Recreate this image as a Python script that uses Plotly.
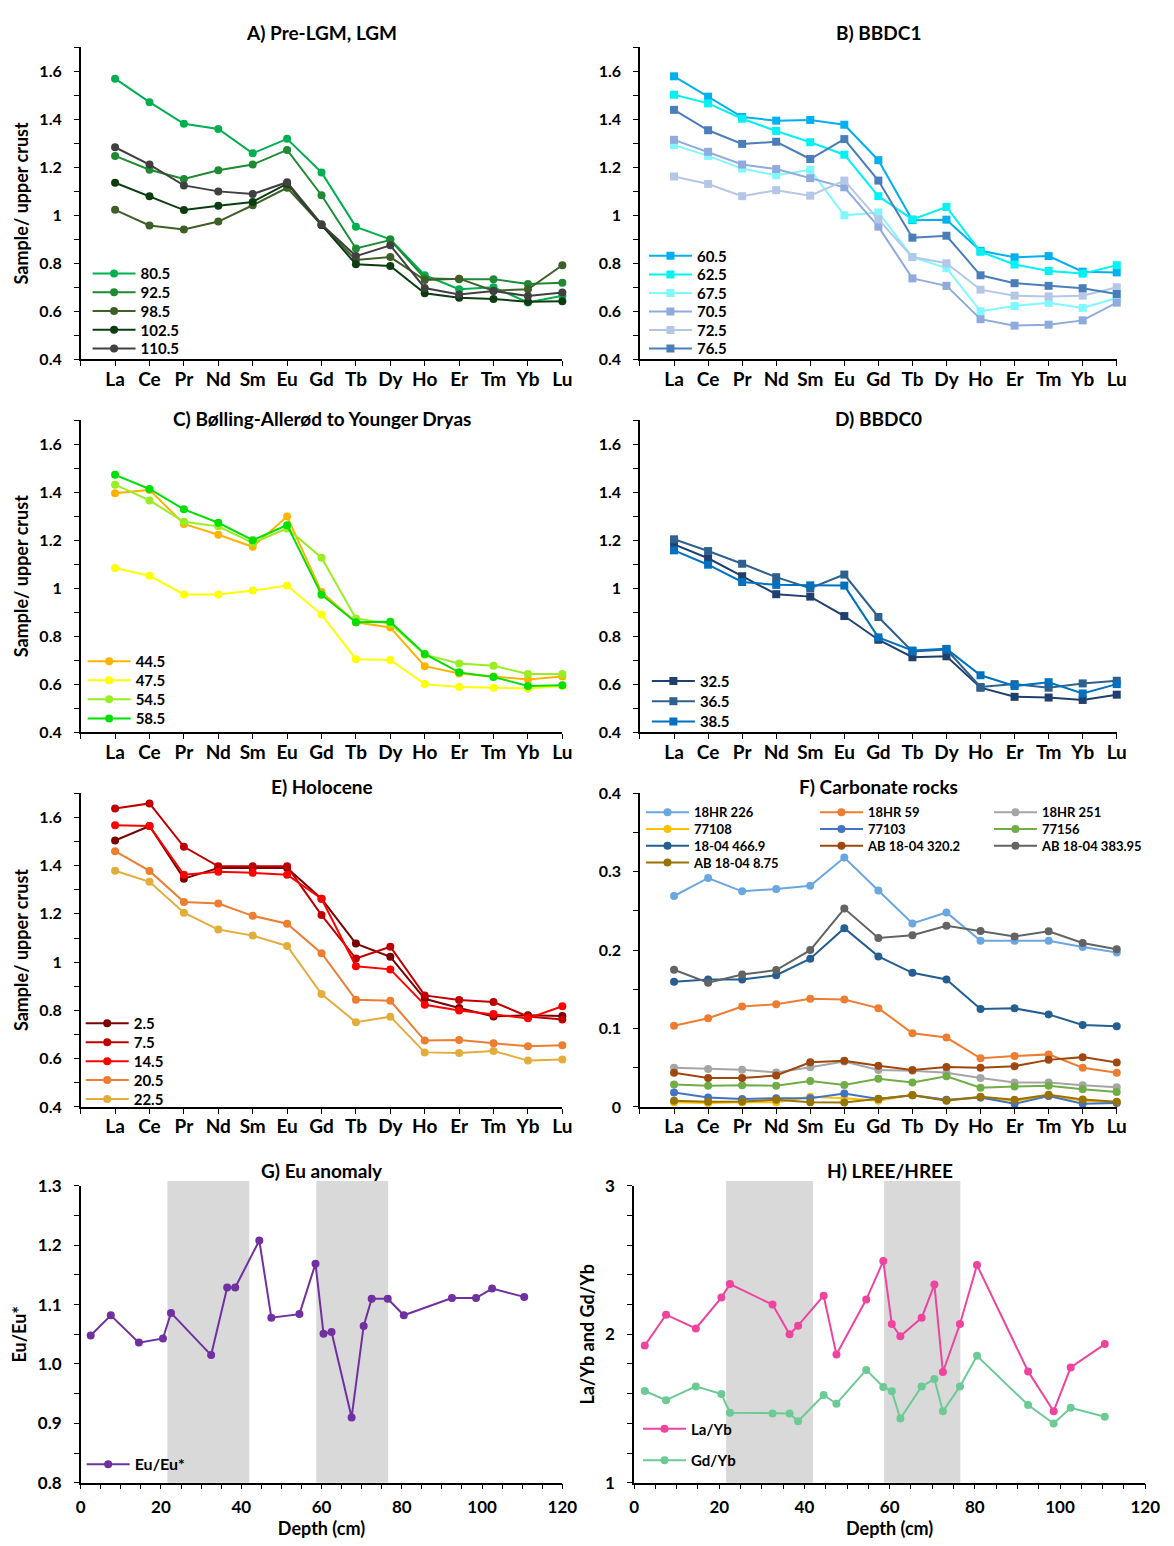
import plotly.graph_objects as go

# ---------------- DATA ----------------
cats = ['La', 'Ce', 'Pr', 'Nd', 'Sm', 'Eu', 'Gd', 'Tb', 'Dy', 'Ho', 'Er', 'Tm', 'Yb', 'Lu']

# A) Pre-LGM, LGM
a_labels = ['80.5', '92.5', '98.5', '102.5', '110.5']
a_80_5 = [1.570, 1.472, 1.382, 1.360, 1.259, 1.319, 1.179, 0.952, 0.900, 0.750, 0.692, 0.700, 0.637, 0.665]
a_92_5 = [1.248, 1.190, 1.152, 1.188, 1.212, 1.273, 1.084, 0.862, 0.897, 0.738, 0.734, 0.734, 0.714, 0.719]
a_98_5 = [1.023, 0.958, 0.941, 0.974, 1.042, 1.115, 0.960, 0.814, 0.826, 0.730, 0.736, 0.686, 0.692, 0.792]
a_102_5 = [1.136, 1.080, 1.022, 1.040, 1.056, 1.132, 0.960, 0.796, 0.789, 0.675, 0.656, 0.651, 0.640, 0.642]
a_110_5 = [1.284, 1.212, 1.125, 1.100, 1.089, 1.138, 0.963, 0.830, 0.875, 0.697, 0.670, 0.684, 0.664, 0.678]

# B) BBDC1
b_labels = ['60.5', '62.5', '67.5', '70.5', '72.5', '76.5']
b_60_5 = [1.580, 1.495, 1.410, 1.395, 1.398, 1.378, 1.230, 0.980, 0.982, 0.852, 0.825, 0.830, 0.765, 0.762]
b_62_5 = [1.503, 1.467, 1.403, 1.352, 1.305, 1.253, 1.080, 0.983, 1.035, 0.848, 0.795, 0.768, 0.757, 0.792]
b_67_5 = [1.293, 1.248, 1.195, 1.167, 1.190, 1.000, 1.012, 0.826, 0.780, 0.600, 0.622, 0.635, 0.614, 0.655]
b_70_5 = [1.315, 1.265, 1.212, 1.193, 1.155, 1.117, 0.953, 0.737, 0.706, 0.567, 0.540, 0.544, 0.562, 0.636]
b_72_5 = [1.162, 1.131, 1.080, 1.105, 1.082, 1.145, 0.983, 0.826, 0.800, 0.690, 0.665, 0.662, 0.665, 0.700]
b_76_5 = [1.440, 1.355, 1.298, 1.307, 1.235, 1.318, 1.145, 0.907, 0.915, 0.750, 0.717, 0.706, 0.696, 0.672]

# C) Bolling-Allerod to Younger Dryas
c_labels = ['44.5', '47.5', '54.5', '58.5']
c_44_5 = [1.396, 1.410, 1.268, 1.223, 1.173, 1.299, 0.984, 0.858, 0.836, 0.675, 0.644, 0.632, 0.619, 0.632]
c_47_5 = [1.084, 1.052, 0.974, 0.974, 0.990, 1.011, 0.890, 0.704, 0.701, 0.600, 0.588, 0.585, 0.582, 0.592]
c_54_5 = [1.432, 1.366, 1.277, 1.258, 1.189, 1.249, 1.127, 0.874, 0.852, 0.723, 0.686, 0.677, 0.642, 0.642]
c_58_5 = [1.473, 1.414, 1.329, 1.273, 1.200, 1.263, 0.973, 0.858, 0.860, 0.726, 0.649, 0.630, 0.592, 0.595]

# D) BBDC0
d_labels = ['32.5', '36.5', '38.5']
d_32_5 = [1.183, 1.125, 1.050, 0.975, 0.965, 0.884, 0.785, 0.712, 0.716, 0.585, 0.547, 0.544, 0.534, 0.556]
d_36_5 = [1.204, 1.155, 1.102, 1.046, 1.000, 1.057, 0.880, 0.736, 0.744, 0.588, 0.600, 0.585, 0.603, 0.614]
d_38_5 = [1.158, 1.098, 1.026, 1.014, 1.012, 1.011, 0.795, 0.740, 0.747, 0.637, 0.592, 0.608, 0.561, 0.600]

# E) Holocene
e_labels = ['2.5', '7.5', '14.5', '20.5', '22.5']
e_2_5 = [1.504, 1.564, 1.346, 1.390, 1.390, 1.390, 1.263, 1.077, 1.022, 0.848, 0.810, 0.775, 0.780, 0.777]
e_7_5 = [1.637, 1.658, 1.478, 1.397, 1.397, 1.397, 1.195, 1.015, 1.064, 0.862, 0.843, 0.835, 0.775, 0.762]
e_14_5 = [1.567, 1.564, 1.362, 1.375, 1.370, 1.362, 1.263, 0.983, 0.970, 0.823, 0.800, 0.785, 0.767, 0.817]
e_20_5 = [1.460, 1.378, 1.249, 1.243, 1.192, 1.159, 1.037, 0.844, 0.840, 0.675, 0.677, 0.664, 0.651, 0.656]
e_22_5 = [1.379, 1.333, 1.205, 1.135, 1.110, 1.067, 0.868, 0.751, 0.774, 0.626, 0.623, 0.632, 0.592, 0.597]

# F) Carbonate rocks
f_labels = ['18HR 226', '18HR 59', '18HR 251', '77108', '77103', '77156',
            '18-04 466.9', 'AB 18-04 320.2', 'AB 18-04 383.95', 'AB 18-04 8.75']
f_18hr226 = [0.269, 0.292, 0.275, 0.278, 0.282, 0.318, 0.276, 0.234, 0.248, 0.212, 0.212, 0.212, 0.204, 0.197]
f_18hr59 = [0.1035, 0.113, 0.128, 0.131, 0.138, 0.137, 0.126, 0.094, 0.0885, 0.062, 0.065, 0.067, 0.050, 0.0435]
f_18hr251 = [0.050, 0.0485, 0.0475, 0.044, 0.0505, 0.058, 0.047, 0.046, 0.0435, 0.037, 0.031, 0.031, 0.0275, 0.025]
f_77108 = [0.006, 0.005, 0.006, 0.006, 0.013, 0.011, 0.008, 0.0155, 0.0085, 0.012, 0.0075, 0.0145, 0.008, 0.006]
f_77103 = [0.0185, 0.012, 0.010, 0.011, 0.011, 0.017, 0.010, 0.015, 0.009, 0.012, 0.004, 0.014, 0.004, 0.005]
f_77156 = [0.0285, 0.027, 0.0275, 0.027, 0.033, 0.028, 0.036, 0.031, 0.039, 0.0245, 0.026, 0.027, 0.0225, 0.019]
f_1804_4669 = [0.1595, 0.1625, 0.1625, 0.168, 0.189, 0.228, 0.192, 0.171, 0.1625, 0.125, 0.1257, 0.118, 0.1045, 0.103]
f_ab1804_3202 = [0.0435, 0.037, 0.037, 0.040, 0.057, 0.059, 0.0525, 0.047, 0.051, 0.050, 0.052, 0.060, 0.0635, 0.0565]
f_ab1804_38395 = [0.175, 0.1585, 0.169, 0.1745, 0.200, 0.253, 0.2155, 0.219, 0.231, 0.2245, 0.2175, 0.224, 0.209, 0.201]
f_ab1804_875 = [0.008, 0.0065, 0.007, 0.009, 0.006, 0.0055, 0.0105, 0.015, 0.008, 0.013, 0.009, 0.0155, 0.0095, 0.0065]

# G) Eu anomaly and H) LREE/HREE vs depth
depth = [2.5, 7.5, 14.5, 20.5, 22.5, 32.5, 36.5, 38.5, 44.5, 47.5, 54.5, 58.5,
         60.5, 62.5, 67.5, 70.5, 72.5, 76.5, 80.5, 92.5, 98.5, 102.5, 110.5]
eu_anomaly = [1.048, 1.082, 1.036, 1.043, 1.086, 1.015, 1.129, 1.129, 1.208, 1.078, 1.084, 1.169,
              1.051, 1.054, 0.910, 1.064, 1.110, 1.110, 1.082, 1.111, 1.111, 1.127, 1.113]
la_yb = [1.924, 2.132, 2.039, 2.247, 2.338, 2.200, 2.000, 2.058, 2.260, 1.864, 2.234, 2.493,
         2.069, 1.987, 2.111, 2.335, 1.746, 2.069, 2.466, 1.750, 1.482, 1.777, 1.934]
gd_yb = [1.618, 1.556, 1.649, 1.598, 1.472, 1.467, 1.467, 1.414, 1.591, 1.532, 1.760, 1.645,
         1.616, 1.432, 1.649, 1.698, 1.481, 1.649, 1.855, 1.523, 1.399, 1.505, 1.445]
# shaded depth intervals (cm)
band_starts = [21.6, 58.7]
band_ends = [42.0, 76.6]

# ---------------- STYLE / LAYOUT ----------------
W, H = 1174, 1546
FONT = 'Lato'


def px(p):
    return p / W


def py(p):
    return 1 - p / H


LEFT = [px(77), px(567)]
RIGHT = [px(646), px(1131)]
RIGHT_H = [px(640), px(1160)]
ROW1 = [py(353), py(37)]
ROW2 = [py(731), py(415)]
ROW3 = [py(1111), py(793)]
ROW4 = [py(1492), py(1191)]

fig = go.Figure()
xi = list(range(len(cats)))
legends = {}
counter = [0]


def new_legend(x_line, y_center, fs):
    """one legend box per entry so the entry spacing can follow the reference"""
    counter[0] += 1
    name = 'legend' if counter[0] == 1 else 'legend%d' % counter[0]
    h = max(1.3 * fs, 16) + 3
    legends[name] = dict(x=px(x_line - 5), y=py(y_center - 5 - h / 2),
                         xanchor='left', yanchor='top', bgcolor='rgba(0,0,0,0)',
                         borderwidth=0, itemwidth=43, itemclick=False, itemdoubleclick=False,
                         font=dict(family=FONT, size=fs, color='black', weight='bold'))
    return name


def add(xv, yv, name, color, symbol, n, legend):
    suffix = '' if n == 1 else str(n)
    fig.add_trace(go.Scatter(
        x=xv, y=yv, name=name, mode='lines+markers',
        line=dict(color=color, width=2),
        marker=dict(color=color, size=8, symbol=symbol),
        xaxis='x' + suffix, yaxis='y' + suffix,
        legend=legend, cliponaxis=False, hoverinfo='skip'))


def add_panel(series, labels, colors, symbol, n, x_line, y_first, step, fs=15):
    for i, (yv, lab, col) in enumerate(zip(series, labels, colors)):
        add(xi, yv, lab, col, symbol, n, new_legend(x_line, y_first + i * step, fs))


add_panel([a_80_5, a_92_5, a_98_5, a_102_5, a_110_5], a_labels,
          ['#00b050', '#1e8a32', '#3e5f28', '#0b3d10', '#404040'], 'circle', 1, 89, 266, 19)
add_panel([b_60_5, b_62_5, b_67_5, b_70_5, b_72_5, b_76_5], b_labels,
          ['#00b0f0', '#00f2f2', '#80f8ff', '#8faadc', '#b4c7e7', '#4a7ebb'], 'square', 2, 655, 248, 18.8)
add_panel([c_44_5, c_47_5, c_54_5, c_58_5], c_labels,
          ['#ffb300', '#ffff00', '#99ee22', '#00e000'], 'circle', 3, 84, 659, 19.3)
add_panel([d_32_5, d_36_5, d_38_5], d_labels,
          ['#1f3f6e', '#2e6090', '#0070c0'], 'square', 4, 658, 679, 20.5)
add_panel([e_2_5, e_7_5, e_14_5, e_20_5, e_22_5], e_labels,
          ['#7b0000', '#c00000', '#ff0000', '#ed7d31', '#e3ad3c'], 'circle', 5, 82, 1026, 19.2)

# F: 3-column legend, filled row by row
f_series = [f_18hr226, f_18hr59, f_18hr251, f_77108, f_77103, f_77156,
            f_1804_4669, f_ab1804_3202, f_ab1804_38395, f_ab1804_875]
f_colors = ['#6aa6e0', '#ed7d31', '#a5a5a5', '#ffc000', '#4472c4', '#70ad47',
            '#255e91', '#9e480e', '#636363', '#997300']
f_cols = [652, 829, 1006]
for i, (yv, lab, col) in enumerate(zip(f_series, f_labels, f_colors)):
    add(xi, yv, lab, col, 'circle', 6, new_legend(f_cols[i % 3], 812 + (i // 3) * 17, 13))

# G, H
add(depth, eu_anomaly, 'Eu/Eu*', '#7030a0', 'circle', 7, new_legend(83, 1473, 16))
add(depth, la_yb, 'La/Yb', '#ee44a0', 'circle', 8, new_legend(649, 1437, 15))
add(depth, gd_yb, 'Gd/Yb', '#6ccb95', 'circle', 8, new_legend(649, 1469, 15))

tickfont = dict(family=FONT, size=16, color='black', weight='bold')
axis_common = dict(showline=True, linecolor='black', linewidth=1.5, ticks='outside',
                   ticklen=5, tickwidth=1.2, tickcolor='black', showgrid=False,
                   zeroline=False, tickfont=tickfont, fixedrange=True)
titlefont = dict(family=FONT, size=18, color='black', weight='bold')

layout = dict(width=W, height=H, margin=dict(l=0, r=0, t=0, b=0),
              paper_bgcolor='white', plot_bgcolor='white', showlegend=True,
              font=dict(family=FONT, color='black'))

panels = [
    (1, LEFT, ROW1, 'cat', 'ree', 'Sample/ upper crust'),
    (2, RIGHT, ROW1, 'cat', 'ree', None),
    (3, LEFT, ROW2, 'cat', 'ree', 'Sample/ upper crust'),
    (4, RIGHT, ROW2, 'cat', 'ree', None),
    (5, LEFT, ROW3, 'cat', 'ree', 'Sample/ upper crust'),
    (6, RIGHT, ROW3, 'cat', 'carb', None),
    (7, LEFT, ROW4, 'depth', 'eu', 'Eu/Eu*'),
    (8, RIGHT_H, ROW4, 'depth', 'ratio', 'La/Yb and Gd/Yb'),
]
for n, xd, yd, xk, yk, ytitle in panels:
    s = '' if n == 1 else str(n)
    xa = dict(axis_common, domain=xd, anchor='y' + s)
    if xk == 'cat':
        xa.update(range=[-1, 13], tickmode='array', tickvals=[-1] + xi,
                  ticktext=[''] + cats, tickfont=dict(tickfont, size=19), ticklabelstandoff=-3)
    else:
        xa.update(range=[0, 120], tickmode='linear', tick0=0, dtick=20,
                  tickfont=dict(tickfont, size=17), ticklabelstandoff=3,
                  minor=dict(ticks='outside', ticklen=5, dtick=5, tick0=0, tickcolor='black'),
                  title=dict(text='Depth (cm)', font=titlefont, standoff=0))
    ya = dict(axis_common, domain=yd, anchor='x' + s, ticklabelstandoff=9)
    if yk == 'ree':
        ya.update(range=[0.4, 1.7001], tickmode='linear', tick0=0.4, dtick=0.2,
                  minor=dict(ticks='outside', ticklen=5, dtick=0.1, tick0=0.4, tickcolor='black'))
    elif yk == 'carb':
        ya.update(range=[0, 0.4001], tickmode='linear', tick0=0, dtick=0.1,
                  minor=dict(ticks='outside', ticklen=5, dtick=0.05, tick0=0, tickcolor='black'))
    elif yk == 'eu':
        ya.update(range=[0.8, 1.3001], tickmode='linear', tick0=0.8, dtick=0.1, tickformat='.1f',
                  tickfont=dict(tickfont, size=17),
                  minor=dict(ticks='outside', ticklen=5, dtick=0.05, tick0=0.8, tickcolor='black'))
    else:
        ya.update(range=[1, 3.0001], tickmode='linear', tick0=1, dtick=1,
                  tickfont=dict(tickfont, size=17),
                  minor=dict(ticks='outside', ticklen=5, dtick=0.2, tick0=1, tickcolor='black'))
    if ytitle:
        ya['title'] = dict(text=ytitle, font=titlefont, standoff=6)
    layout['xaxis' + s] = xa
    layout['yaxis' + s] = ya

layout.update(legends)

# panel titles
titles = [('A) Pre-LGM, LGM', LEFT, 22), ('B) BBDC1', RIGHT, 22),
          ('C) Bølling-Allerød to Younger Dryas', LEFT, 413), ('D) BBDC0', RIGHT, 413),
          ('E) Holocene', LEFT, 786), ('F) Carbonate rocks', RIGHT, 786),
          ('G) Eu anomaly', LEFT, 1175), ('H) LREE/HREE', RIGHT_H, 1175)]
anns = []
for t, xd, ypx in titles:
    anns.append(dict(text=t, xref='paper', yref='paper', x=(xd[0] + xd[1]) / 2, y=py(ypx),
                     xanchor='center', yanchor='middle', showarrow=False,
                     font=dict(family=FONT, size=19, color='black', weight='bold')))
layout['annotations'] = anns

# shaded bands in G and H
shapes = []
for xr, dom in (('x7', ROW4), ('x8', ROW4)):
    for b0, b1 in zip(band_starts, band_ends):
        shapes.append(dict(type='rect', xref=xr, yref='paper', x0=b0, x1=b1,
                           y0=dom[0], y1=py(1186), fillcolor='#d9d9d9',
                           line=dict(width=0), layer='below'))
layout['shapes'] = shapes

fig.update_layout(**layout)
fig.write_html('out.html', config={'displayModeBar': False})
